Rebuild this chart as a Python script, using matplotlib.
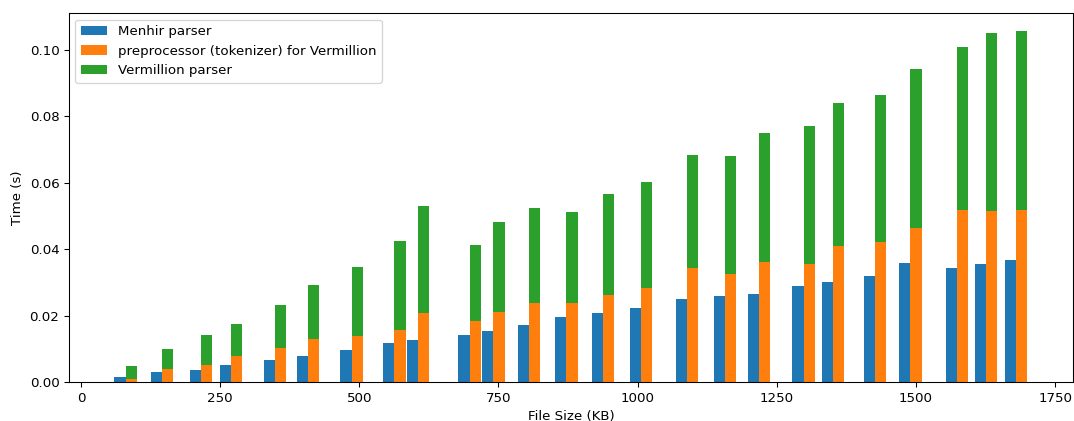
import numpy as np
from matplotlib import pyplot as plt

# file sizes (KB) and timings (s)
sizes = [80, 146, 216, 270, 349, 408, 486, 563, 606, 698, 741, 805, 872,
         938, 1006, 1089, 1157, 1218, 1298, 1351, 1427, 1490, 1574, 1626, 1680]
menhir = [0.0016, 0.0031, 0.0037, 0.0052, 0.0067, 0.0079, 0.0097, 0.0118,
          0.0128, 0.0142, 0.0154, 0.0172, 0.0196, 0.0208, 0.0223, 0.0250,
          0.0259, 0.0265, 0.0289, 0.0301, 0.0319, 0.0358, 0.0343, 0.0355, 0.0367]
preprocessor = [0.0010, 0.0040, 0.0052, 0.0079, 0.0103, 0.0130, 0.0139, 0.0157,
                0.0208, 0.0184, 0.0211, 0.0238, 0.0238, 0.0262, 0.0283, 0.0343,
                0.0325, 0.0361, 0.0355, 0.0409, 0.0421, 0.0464, 0.0518, 0.0515, 0.0518]
vermillion = [0.0039, 0.0060, 0.0090, 0.0097, 0.0130, 0.0163, 0.0208, 0.0268,
              0.0322, 0.0229, 0.0271, 0.0286, 0.0274, 0.0304, 0.0319, 0.0341,
              0.0356, 0.0389, 0.0416, 0.0431, 0.0443, 0.0478, 0.0490, 0.0536, 0.0539]

x = np.array(sizes)
width = 20

dpi = 96
fig = plt.figure(figsize=(1074 / dpi, 421 / dpi), dpi=dpi)
ax = fig.add_subplot(111)
fig.subplots_adjust(left=0.064, right=0.999, bottom=0.092, top=0.969)

ax.bar(x - width / 2, menhir, width, label="Menhir parser")
ax.bar(x + width / 2, preprocessor, width, label="preprocessor (tokenizer) for Vermillion")
ax.bar(x + width / 2, vermillion, width, bottom=preprocessor, label="Vermillion parser")

ax.set_xlabel("File Size (KB)")
ax.set_ylabel("Time (s)")
ax.legend(loc="upper left")

plt.savefig("out.png", dpi=dpi)
